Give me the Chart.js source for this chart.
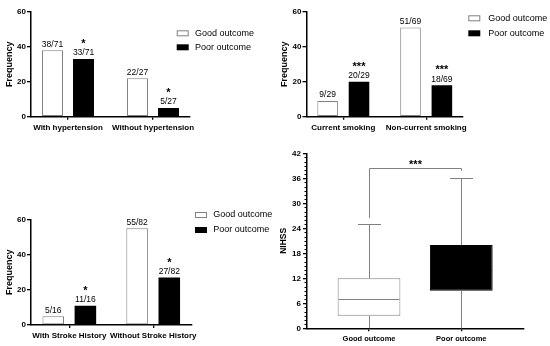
<!DOCTYPE html>
<html><head><meta charset="utf-8">
<script src="https://cdn.jsdelivr.net/npm/chart.js@4.4.1/dist/chart.umd.min.js"></script>
<style>
html,body{margin:0;padding:0;background:#fff;}
body{width:550px;height:346px;position:relative;overflow:hidden;}
canvas{position:absolute;}
</style></head><body>
<canvas id="c1" width="275" height="140" style="left:0;top:0"></canvas>
<canvas id="c2" width="275" height="140" style="left:275px;top:0"></canvas>
<canvas id="c3" width="275" height="176" style="left:0;top:170px"></canvas>
<canvas id="c4" width="275" height="206" style="left:275px;top:140px"></canvas>
<script>
const FONT = "'Liberation Sans', Arial, Helvetica, sans-serif";
const seriesNames = ['Good outcome', 'Poor outcome'];

const htCategories = ['With hypertension', 'Without hypertension'];
const htGood = [38, 22];
const htPoor = [33, 5];
const htGoodLabels = ['38/71', '22/27'];
const htPoorLabels = ['33/71', '5/27'];
const htPoorStars = ['*', '*'];

const smCategories = ['Current smoking', 'Non-current smoking'];
const smGood = [9, 51];
const smPoor = [20, 18];
const smGoodLabels = ['9/29', '51/69'];
const smPoorLabels = ['20/29', '18/69'];
const smPoorStars = ['***', '***'];

const shCategories = ['With Stroke History', 'Without Stroke History'];
const shGood = [5, 55];
const shPoor = [11, 27];
const shGoodLabels = ['5/16', '55/82'];
const shPoorLabels = ['11/16', '27/82'];
const shPoorStars = ['*', '*'];

const freqTicks = [0, 20, 40, 60];

const boxCategories = ['Good outcome', 'Poor outcome'];
const boxMin = [0, 0];
const boxQ1 = [3, 9];
const boxMedian = [7, 14];
const boxQ3 = [12, 20];
const boxMax = [25, 36];
const nihssTicks = [0, 6, 12, 18, 24, 30, 36, 42];
const sigLabel = '***';
const sigLevel = 38.4;
const sigLegEnds = [26.5, 37.8];

Chart.defaults.font.family = FONT;
Chart.defaults.color = '#000';
const GRAY = '#808080';

const barTextPlugin = {
  id: 'barText',
  afterDatasetsDraw(chart) {
    const ctx = chart.ctx;
    ctx.save();
    ctx.fillStyle = '#000';
    ctx.textAlign = 'center';
    ctx.textBaseline = 'alphabetic';
    chart.data.datasets.forEach((ds, di) => {
      const meta = chart.getDatasetMeta(di);
      meta.data.forEach((el, i) => {
        const base = el.y - 3.5;
        ctx.font = '8.5px ' + FONT;
        if (ds.texts) ctx.fillText(ds.texts[i], el.x, base);
        if (ds.stars) {
          ctx.font = 'bold 11px ' + FONT;
          ctx.fillText(ds.stars[i], el.x, base - 8.5);
        }
      });
    });
    ctx.restore();
  }
};

const legendPlugin = {
  id: 'boxLegend',
  afterDraw(chart, args, o) {
    const ctx = chart.ctx;
    ctx.save();
    seriesNames.forEach((name, i) => {
      const y = o.y + i * o.dy;
      if (i === 0) {
        ctx.fillStyle = '#fff';
        ctx.fillRect(o.x, y - 3, 12, 6);
        ctx.strokeStyle = GRAY;
        ctx.lineWidth = 1;
        ctx.strokeRect(o.x + 0.5, y - 2.5, 11, 5);
      } else {
        ctx.fillStyle = '#000';
        ctx.fillRect(o.x, y - 3, 12, 6);
      }
      ctx.fillStyle = '#000';
      ctx.font = '9px ' + FONT;
      ctx.textBaseline = 'middle';
      ctx.textAlign = 'left';
      ctx.fillText(name, o.x + o.tx, y);
    });
    ctx.restore();
  }
};

function barChart(id, cfg) {
  return new Chart(document.getElementById(id), {
    type: 'bar',
    data: {
      datasets: [
        {
          label: seriesNames[0],
          data: cfg.good.map((v, i) => ({ x: i + 1, y: v })),
          backgroundColor: '#fff', borderColor: GRAY, borderWidth: 1, borderSkipped: false,
          categoryPercentage: cfg.cat, barPercentage: cfg.bar,
          texts: cfg.goodLabels
        },
        {
          label: seriesNames[1],
          data: cfg.poor.map((v, i) => ({ x: i + 1, y: v })),
          backgroundColor: '#000', borderColor: '#000', borderWidth: 0,
          categoryPercentage: cfg.cat, barPercentage: cfg.bar,
          texts: cfg.poorLabels, stars: cfg.poorStars
        }
      ]
    },
    options: {
      responsive: false, animation: false, devicePixelRatio: 1,
      layout: { padding: cfg.pad },
      plugins: { legend: { display: false }, tooltip: { enabled: false }, boxLegend: cfg.legend },
      scales: {
        x: {
          type: 'linear', min: 1 - cfg.m, max: 2 + cfg.m, offset: false,
          afterBuildTicks: s => { s.ticks = cfg.cats.map((c, i) => ({ value: i + 1 })); },
          ticks: { callback: v => cfg.cats[v - 1], autoSkip: false, maxRotation: 0, minRotation: 0,
                   font: { size: 8, weight: 'bold' }, padding: 3, color: '#000' },
          grid: { offset: false, drawOnChartArea: false, drawTicks: true, tickLength: 3, color: '#000', lineWidth: 1.3 },
          border: { display: true, color: '#000', width: 1.5 },
          afterFit: s => { s.height = cfg.xh; }
        },
        y: {
          min: 0, max: 60,
          afterBuildTicks: s => { s.ticks = freqTicks.map(v => ({ value: v })); },
          ticks: { font: { size: 8, weight: 'bold' }, padding: 1, color: '#000' },
          grid: { drawOnChartArea: false, drawTicks: true, tickLength: 4, color: '#000', lineWidth: 1.3 },
          border: { display: true, color: '#000', width: 1.5 },
          title: { display: true, text: 'Frequency', font: { size: 9, weight: 'bold' }, padding: { top: 4, bottom: 0 }, color: '#000' },
          afterFit: s => { s.width = cfg.yw; }
        }
      }
    },
    plugins: [barTextPlugin, legendPlugin]
  });
}

barChart('c1', {
  cats: htCategories, good: htGood, poor: htPoor,
  goodLabels: htGoodLabels, poorLabels: htPoorLabels, poorStars: htPoorStars,
  pad: { left: 0, top: 11.7, right: 85, bottom: 0 }, yw: 31, xh: 23.3,
  m: 0.4353, cat: 0.73, bar: 0.677,
  legend: { x: 176.7, y: 33.3, dy: 14, tx: 18.3 }
});
barChart('c2', {
  cats: smCategories, good: smGood, poor: smPoor,
  goodLabels: smGoodLabels, poorLabels: smPoorLabels, poorStars: smPoorStars,
  pad: { left: 0, top: 11.7, right: 87, bottom: 0 }, yw: 31.5, xh: 23.3,
  m: 0.444, cat: 0.757, bar: 0.656,
  legend: { x: 193.3, y: 18.3, dy: 15, tx: 20 }
});
barChart('c3', {
  cats: shCategories, good: shGood, poor: shPoor,
  goodLabels: shGoodLabels, poorLabels: shPoorLabels, poorStars: shPoorStars,
  pad: { left: 0, top: 49.5, right: 83.5, bottom: 0 }, yw: 31, xh: 21,
  m: 0.4565, cat: 0.767, bar: 0.67,
  legend: { x: 195, y: 45, dy: 15, tx: 18.3 }
});

const boxExtrasPlugin = {
  id: 'boxExtras',
  afterDatasetsDraw(chart) {
    const ctx = chart.ctx;
    const xs = chart.scales.x, ys = chart.scales.y;
    const meta = chart.getDatasetMeta(0);
    ctx.save();
    ctx.lineWidth = 1;
    boxCategories.forEach((c, i) => {
      const x = Math.round(xs.getPixelForValue(i + 1)) + 0.5;
      const el = meta.data[i];
      const half = el.width / 2 - 1;
      ctx.strokeStyle = GRAY;
      ctx.beginPath();
      ctx.moveTo(x, ys.getPixelForValue(boxMax[i]));
      ctx.lineTo(x, ys.getPixelForValue(boxQ3[i]));
      ctx.moveTo(x, ys.getPixelForValue(boxQ1[i]));
      ctx.lineTo(x, ys.getPixelForValue(boxMin[i]));
      const ymx = Math.round(ys.getPixelForValue(boxMax[i])) + 0.5;
      ctx.moveTo(x - 11.5, ymx); ctx.lineTo(x + 11.5, ymx);
      ctx.stroke();
      ctx.strokeStyle = i === 0 ? GRAY : '#000';
      const ym = Math.round(ys.getPixelForValue(boxMedian[i])) + 0.5;
      ctx.beginPath();
      ctx.moveTo(el.x - half, ym); ctx.lineTo(el.x + half, ym);
      ctx.stroke();
    });
    // significance bracket
    const x1 = Math.round(xs.getPixelForValue(1)) + 0.5;
    const x2 = Math.round(xs.getPixelForValue(2)) + 0.5;
    const yl = Math.round(ys.getPixelForValue(sigLevel)) + 0.5;
    ctx.strokeStyle = GRAY;
    ctx.beginPath();
    ctx.moveTo(x1, ys.getPixelForValue(sigLegEnds[0]));
    ctx.lineTo(x1, yl); ctx.lineTo(x2, yl);
    ctx.lineTo(x2, ys.getPixelForValue(sigLegEnds[1]));
    ctx.stroke();
    ctx.fillStyle = '#000';
    ctx.font = 'bold 11px ' + FONT;
    ctx.textAlign = 'center';
    ctx.textBaseline = 'alphabetic';
    ctx.fillText(sigLabel, (x1 + x2) / 2, yl - 1);
    // minor ticks
    const ax = chart.chartArea.left;
    ctx.strokeStyle = '#000';
    ctx.beginPath();
    for (let v = ys.min; v <= ys.max; v++) {
      if (nihssTicks.includes(v)) continue;
      const y = Math.round(ys.getPixelForValue(v)) + 0.5;
      ctx.moveTo(ax - 2.5, y); ctx.lineTo(ax, y);
    }
    ctx.stroke();
    ctx.restore();
  }
};

new Chart(document.getElementById('c4'), {
  type: 'bar',
  data: {
    datasets: [{
      data: boxCategories.map((c, i) => ({ x: i + 1, y: [boxQ1[i], boxQ3[i]] })),
      backgroundColor: ['#fff', '#000'], borderColor: [GRAY, '#000'], borderWidth: 1, borderSkipped: false,
      categoryPercentage: 1, barPercentage: 0.68
    }]
  },
  options: {
    responsive: false, animation: false, devicePixelRatio: 1,
    layout: { padding: { left: 0, top: 13.3, right: 26.7, bottom: 0 } },
    plugins: { legend: { display: false }, tooltip: { enabled: false } },
    scales: {
      x: {
        type: 'linear', min: 1 - 0.672, max: 2 + 0.672, offset: false,
        afterBuildTicks: s => { s.ticks = boxCategories.map((c, i) => ({ value: i + 1 })); },
        ticks: { callback: v => boxCategories[v - 1], autoSkip: false, maxRotation: 0, minRotation: 0,
                 font: { size: 7.5, weight: 'bold' }, padding: 3, color: '#000' },
        grid: { offset: false, drawOnChartArea: false, drawTicks: true, tickLength: 3, color: '#000', lineWidth: 1.3 },
        border: { display: true, color: '#000', width: 1.5 },
        afterFit: s => { s.height = 17.7; }
      },
      y: {
        min: 0, max: 42,
        afterBuildTicks: s => { s.ticks = nihssTicks.map(v => ({ value: v })); },
        ticks: { font: { size: 8, weight: 'bold' }, padding: 2, color: '#000' },
        grid: { drawOnChartArea: false, drawTicks: true, tickLength: 4, color: '#000', lineWidth: 1.3 },
        border: { display: true, color: '#000', width: 1.5 },
        title: { display: true, text: 'NIHSS', font: { size: 8.5, weight: 'bold' }, padding: { top: 4, bottom: 0 }, color: '#000' },
        afterFit: s => { s.width = 32; }
      }
    }
  },
  plugins: [boxExtrasPlugin]
});
</script>
</body></html>
